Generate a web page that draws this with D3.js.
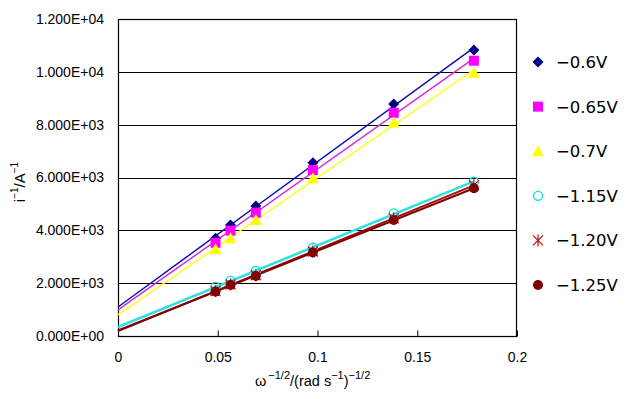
<!DOCTYPE html>
<html><head><meta charset="utf-8">
<script src="https://cdn.jsdelivr.net/npm/d3@7"></script>
<style>
html,body{margin:0;padding:0;background:#fff;}
svg{display:block;font-family:"Liberation Sans",Arial,sans-serif;}
</style></head>
<body><svg id="c" width="634" height="399"></svg>
<script>
const xValues = [0.0489, 0.0564, 0.0691, 0.0977, 0.1382, 0.1784];
const seriesNames = ["−0.6V", "−0.65V", "−0.7V", "−1.15V", "−1.20V", "−1.25V"];
const s06 = [3700, 4200, 4920, 6560, 8780, 10830];
const s065 = [3530, 3990, 4670, 6280, 8450, 10420];
const s07 = [3280, 3700, 4390, 5970, 8080, 9970];
const s115 = [1860, 2090, 2460, 3340, 4640, 5840];
const s120 = [1700, 1950, 2300, 3200, 4450, 5710];
const s125 = [1680, 1930, 2270, 3160, 4390, 5590];
const yTicks = [0, 2000, 4000, 6000, 8000, 10000, 12000];
const xTicks = [0, 0.05, 0.1, 0.15, 0.2];

const series = [
  {name: seriesNames[0], vals: s06, marker: "diamond", fill: "#000080", line: "#1010b0", lw: 1.5},
  {name: seriesNames[1], vals: s065, marker: "square", fill: "#ff00ff", line: "#d030d0", lw: 1.5},
  {name: seriesNames[2], vals: s07, marker: "triangle", fill: "#ffff00", line: "#ffff20", lw: 1.5},
  {name: seriesNames[3], vals: s115, marker: "ocircle", fill: "#00e0e0", line: "#30e0e0", lw: 2.5},
  {name: seriesNames[4], vals: s120, marker: "asterisk", fill: "#c01010", line: "#a01010", lw: 2},
  {name: seriesNames[5], vals: s125, marker: "dot", fill: "#800000", line: "#800000", lw: 2}
];

const svg = d3.select("#c");
const x = d3.scaleLinear().domain([0, 0.2]).range([118, 517]);
const y = d3.scaleLinear().domain([0, 12000]).range([336, 19]);

// gridlines
svg.append("g").selectAll("line").data(yTicks).join("line")
  .attr("x1", x(0)).attr("x2", x(0.2))
  .attr("y1", d => Math.round(y(d)) + 0.5).attr("y2", d => Math.round(y(d)) + 0.5)
  .attr("stroke", "#000").attr("stroke-width", 1);
// frame
svg.append("rect").attr("x", x(0) + 0.5).attr("y", Math.round(y(12000)) + 0.5)
  .attr("width", x(0.2) - x(0) - 1).attr("height", Math.round(y(0)) - Math.round(y(12000)))
  .attr("fill", "none").attr("stroke", "#000").attr("stroke-width", 1.2);

// axes
const fmtY = d => d === 0 ? "0.000E+00" : (d / Math.pow(10, Math.floor(Math.log10(d)))).toFixed(3) + "E+" + String(Math.floor(Math.log10(d))).padStart(2, "0");
const yAxis = d3.axisLeft(y).tickValues(yTicks).tickSize(0).tickPadding(14).tickFormat(fmtY);
const gy = svg.append("g").attr("transform", `translate(${x(0)},0)`).call(yAxis);
gy.select(".domain").remove();
gy.selectAll("text").attr("font-size", 14).attr("font-family", "Liberation Sans, Arial, sans-serif").attr("fill", "#000");

const xAxis = d3.axisBottom(x).tickValues(xTicks).tickSize(-6).tickPadding(16).tickFormat(d => d3.format("")(d));
const gx = svg.append("g").attr("transform", `translate(0,${Math.round(y(0)) + 0.5})`).call(xAxis);
gx.select(".domain").remove();
gx.selectAll("line").attr("stroke", "#000");
gx.selectAll("text").attr("font-size", 14).attr("font-family", "Liberation Sans, Arial, sans-serif").attr("fill", "#000");

// trend lines (least squares fit of the data)
function fit(xs, ys) {
  const n = xs.length, mx = d3.mean(xs), my = d3.mean(ys);
  let sxy = 0, sxx = 0;
  for (let i = 0; i < n; i++) { sxy += (xs[i] - mx) * (ys[i] - my); sxx += (xs[i] - mx) ** 2; }
  const b = sxy / sxx; return {b, a: my - b * mx};
}
const lineG = svg.append("g");
series.forEach(s => {
  const f = fit(xValues, s.vals);
  const x2 = d3.max(xValues);
  lineG.append("line").attr("x1", x(0)).attr("y1", y(f.a)).attr("x2", x(x2)).attr("y2", y(f.a + f.b * x2))
    .attr("stroke", s.line).attr("stroke-width", s.lw);
});

function drawMarker(g, type, color, cx, cy) {
  const m = g.append("g").attr("transform", `translate(${cx},${cy})`);
  if (type === "diamond") m.append("path").attr("d", "M0,-5.5L5.5,0L0,5.5L-5.5,0Z").attr("fill", color);
  else if (type === "square") m.append("rect").attr("x", -5).attr("y", -5).attr("width", 10).attr("height", 10).attr("fill", color);
  else if (type === "triangle") m.append("path").attr("d", "M0,-6L6,5L-6,5Z").attr("fill", color);
  else if (type === "ocircle") m.append("circle").attr("r", 4.5).attr("fill", "none").attr("stroke", color).attr("stroke-width", 1.3);
  else if (type === "dot") m.append("circle").attr("r", 5).attr("fill", color);
  else if (type === "asterisk") m.append("path").attr("d", "M-5,-5L5,5M-5,5L5,-5M0,-6L0,6").attr("stroke", color).attr("stroke-width", 1.2).attr("fill", "none");
}
const markG = svg.append("g");
series.forEach(s => {
  s.vals.forEach((v, i) => drawMarker(markG, s.marker, s.fill, x(xValues[i]), y(v)));
});

// legend
const leg = svg.append("g");
series.forEach((s, i) => {
  const ly = 62 + i * 44.6;
  drawMarker(leg, s.marker, s.fill, 538, ly);
  leg.append("text").attr("x", 556).attr("y", ly + 6).attr("font-size", 16.5)
    .attr("font-family", "DejaVu Sans, sans-serif").attr("fill", "#000").text(s.name);
});

// axis titles
const xt = svg.append("text").attr("x", 255).attr("y", 386).attr("font-size", 14.5).attr("fill", "#000");
xt.append("tspan").text("ω");
xt.append("tspan").attr("dx", 2).attr("dy", -7).attr("font-size", 11).text("−1/2");
xt.append("tspan").attr("dy", 7).text("/(rad s");
xt.append("tspan").attr("dy", -7).attr("font-size", 11).text("−1");
xt.append("tspan").attr("dy", 7).text(")");
xt.append("tspan").attr("dy", -7).attr("font-size", 11).text("−1/2");

const yt = svg.append("text").attr("transform", "translate(25,182) rotate(-90)").attr("text-anchor", "middle")
  .attr("font-size", 15).attr("fill", "#000");
yt.append("tspan").text("i");
yt.append("tspan").attr("dy", -7).attr("font-size", 10).text("−1");
yt.append("tspan").attr("dy", 7).text("/A");
yt.append("tspan").attr("dy", -7).attr("font-size", 10).text("−1");
</script></body></html>
